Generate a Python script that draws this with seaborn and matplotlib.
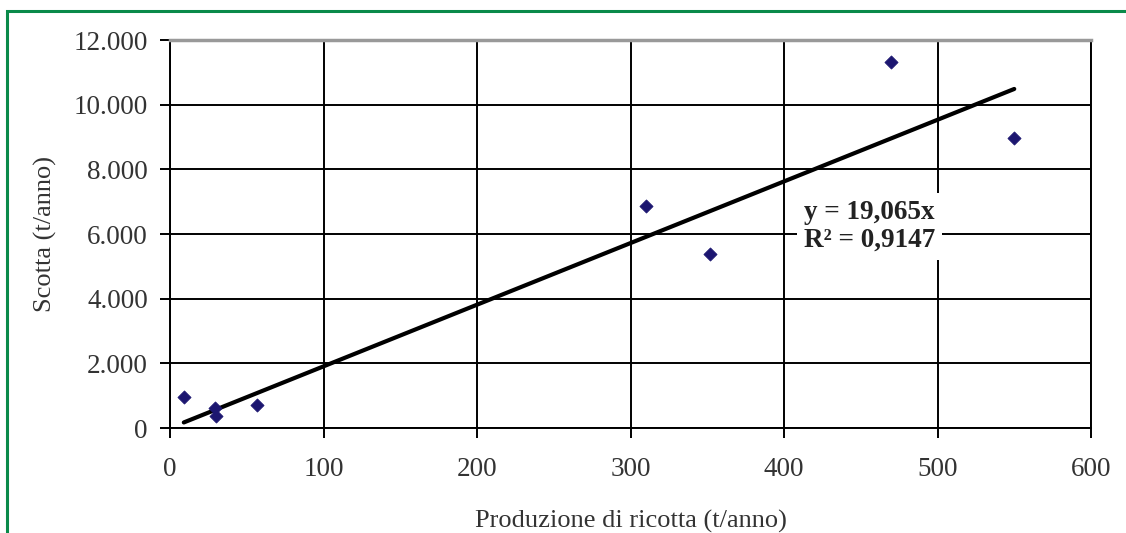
import matplotlib
matplotlib.use("Agg")
import matplotlib.pyplot as plt
import seaborn as sns
import numpy as np
import pandas as pd
from matplotlib.patches import Rectangle
from matplotlib.ticker import FuncFormatter

# Data
produzione = [9, 29, 30, 57, 310, 352, 470, 550]
scotta = [960, 610, 380, 700, 6860, 5370, 11310, 8960]
slope = 19.065
x_ticks = [0, 100, 200, 300, 400, 500, 600]
y_ticks = [0, 2000, 4000, 6000, 8000, 10000, 12000]
eq_text = "y = 19,065x\nR² = 0,9147"

sns.set_theme(style="white")
plt.rcParams['font.family'] = ['Liberation Serif', 'DejaVu Serif']

fig = plt.figure(figsize=(11.26, 5.33), dpi=100)
ax = fig.add_axes([170/1126, 1 - 428/533, (1091-170)/1126, (428-40)/533])

# Green frame
fig.patches.append(Rectangle((7/1126, -0.2), 1.2, 1 - 11/533 + 0.2, transform=fig.transFigure,
                             fill=False, edgecolor="#0a8a4a", linewidth=2.2, zorder=0))

df = pd.DataFrame({"x": produzione, "y": scotta})
xl = np.array([min(produzione), max(produzione)])
sns.lineplot(x=xl, y=slope * xl, ax=ax, color="black", linewidth=3, zorder=3)
sns.scatterplot(data=df, x="x", y="y", ax=ax, marker="D", s=45, color="#1c1670",
                edgecolor="#1c1670", zorder=4)

ax.set_xlim(0, 600)
ax.set_ylim(0, 12000)
ax.set_xticks(x_ticks)
ax.set_yticks(y_ticks)
ax.yaxis.set_major_formatter(FuncFormatter(lambda v, p: f"{int(v):,}".replace(",", ".")))
ax.grid(True, color="black", linewidth=1.4)
ax.set_axisbelow(True)
for s in ["left", "bottom", "right"]:
    ax.spines[s].set_color("black")
    ax.spines[s].set_linewidth(1.4)
ax.spines["top"].set_color("#999999")
ax.spines["top"].set_linewidth(2.5)
ax.tick_params(axis="both", direction="out", length=7, width=1.4, color="black",
               labelsize=19.5, labelcolor="#333333", bottom=True, left=True)
ax.tick_params(axis="x", pad=14)
ax.tick_params(axis="y", pad=9)

ax.set_xlabel("Produzione di ricotta (t/anno)", fontsize=19, color="#333333", labelpad=20)
ax.set_ylabel("Scotta (t/anno)", fontsize=19, color="#333333", labelpad=12)

ax.text(413, 7050, eq_text, fontsize=19.5, fontweight="bold", color="#222222",
        ha="left", va="top", linespacing=1.15,
        bbox=dict(facecolor="white", edgecolor="none", pad=5), zorder=5)

fig.savefig("out.png", dpi=100)
